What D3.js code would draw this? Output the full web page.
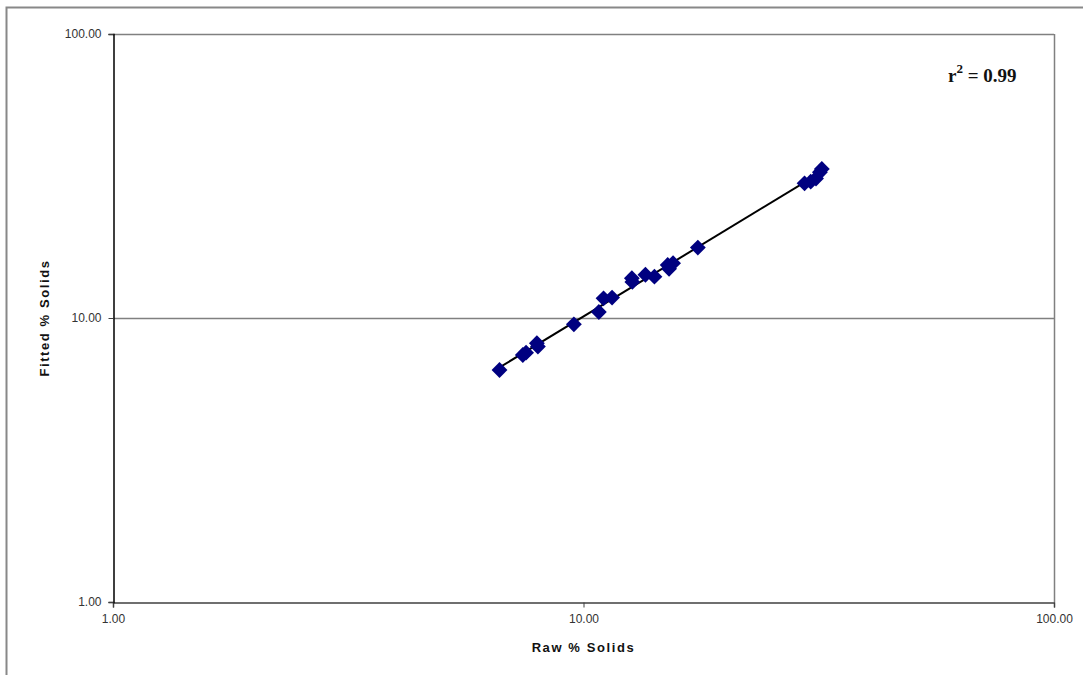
<!DOCTYPE html>
<html>
<head>
<meta charset="utf-8">
<script src="https://cdn.jsdelivr.net/npm/d3@7"></script>
<style>
  body { margin: 0; background: #fff; }
  svg { display: block; }
</style>
</head>
<body>
<div id="chart"></div>
<script>
const width = 1083;
const height = 675;

// raw % solids vs fitted % solids
const rawSolids = [6.63, 7.43, 7.55, 7.96, 8.0, 9.54, 10.78, 11.03, 11.5, 12.7, 12.67, 13.54, 14.15, 15.1, 15.5, 15.2, 17.5, 29.5, 30.4, 31.2, 31.8, 32.1];
const fittedSolids = [6.56, 7.41, 7.55, 8.15, 7.93, 9.5, 10.5, 11.73, 11.8, 13.4, 13.8, 14.2, 13.98, 15.37, 15.6, 14.9, 17.7, 29.8, 30.2, 31.0, 32.6, 33.5];
const tickValues = [1, 10, 100];
const tickLabels = ["1.00", "10.00", "100.00"];
const rSquared = "0.99";

const margin = {left: 113, top: 34, right: 1054, bottom: 602};

const svg = d3.select('#chart')
  .append('svg')
  .attr('width', width)
  .attr('height', height);

// outer chart frame (right/bottom are off-canvas)
svg.append('path')
  .attr('d', `M6.5,${height + 5}V7.5H${width + 5}`)
  .attr('fill', 'none')
  .attr('stroke', '#888')
  .attr('stroke-width', 2);

const x = d3.scaleLog().domain([1, 100]).range([margin.left, margin.right]);
const y = d3.scaleLog().domain([1, 100]).range([margin.bottom, margin.top]);

// gridlines + plot frame
svg.append('g')
  .selectAll('line')
  .data([10, 100])
  .join('line')
  .attr('x1', margin.left).attr('x2', margin.right)
  .attr('y1', d => Math.round(y(d)) + 0.5).attr('y2', d => Math.round(y(d)) + 0.5)
  .attr('stroke', '#808080')
  .attr('stroke-width', 1.5);

svg.append('line')
  .attr('x1', margin.right + 0.5).attr('x2', margin.right + 0.5)
  .attr('y1', margin.top).attr('y2', margin.bottom)
  .attr('stroke', '#808080')
  .attr('stroke-width', 1.5);

// axes
const xAxis = d3.axisBottom(x)
  .tickValues(tickValues)
  .tickFormat((d, i) => tickLabels[i])
  .tickSizeOuter(0)
  .tickSize(5)
  .tickPadding(7);

const yAxis = d3.axisLeft(y)
  .tickValues(tickValues)
  .tickFormat((d, i) => tickLabels[i])
  .tickSizeOuter(0)
  .tickSize(5)
  .tickPadding(7);

const gx = svg.append('g')
  .attr('transform', `translate(0,${margin.bottom + 0.5})`)
  .call(xAxis);
gx.select('.domain').attr('stroke', '#404040').attr('stroke-width', 1.5);

const gy = svg.append('g')
  .attr('transform', `translate(${margin.left + 0.5},0)`)
  .call(yAxis);
gy.select('.domain').attr('stroke', '#000').attr('stroke-width', 1.5);

svg.selectAll('.tick line').attr('stroke', '#404040');
svg.selectAll('.tick text')
  .attr('font-family', 'Arial, "Liberation Sans", sans-serif')
  .attr('font-size', 12)
  .attr('fill', '#333');

// power-law trend line fitted on logs
const lx = rawSolids.map(Math.log10);
const ly = fittedSolids.map(Math.log10);
const mx = d3.mean(lx), my = d3.mean(ly);
const slope = d3.sum(lx, (v, i) => (v - mx) * (ly[i] - my)) / d3.sum(lx, v => (v - mx) ** 2);
const icpt = my - slope * mx;
const [xmin, xmax] = d3.extent(rawSolids);
const fit = v => Math.pow(10, icpt + slope * Math.log10(v));

svg.append('line')
  .attr('x1', x(xmin)).attr('y1', y(fit(xmin)))
  .attr('x2', x(xmax)).attr('y2', y(fit(xmax)))
  .attr('stroke', '#000')
  .attr('stroke-width', 2);

// diamonds
const points = rawSolids.map((v, i) => ({raw: v, fitted: fittedSolids[i]}));
svg.append('g')
  .selectAll('path')
  .data(points)
  .join('path')
  .attr('d', d3.symbol(d3.symbolDiamond2, 160))
  .attr('transform', d => `translate(${x(d.raw)},${y(d.fitted)})`)
  .attr('fill', '#000080');

// titles
svg.append('text')
  .attr('x', (margin.left + margin.right) / 2)
  .attr('y', 652)
  .attr('text-anchor', 'middle')
  .attr('font-family', 'Arial, "Liberation Sans", sans-serif')
  .attr('font-size', 13)
  .attr('font-weight', 'bold')
  .attr('letter-spacing', 1.6)
  .attr('fill', '#111')
  .text('Raw % Solids');

svg.append('text')
  .attr('transform', `translate(49,${(margin.top + margin.bottom) / 2}) rotate(-90)`)
  .attr('text-anchor', 'middle')
  .attr('font-family', 'Arial, "Liberation Sans", sans-serif')
  .attr('font-size', 13)
  .attr('font-weight', 'bold')
  .attr('letter-spacing', 1.6)
  .attr('fill', '#111')
  .text('Fitted % Solids');

const r2 = svg.append('text')
  .attr('x', 948)
  .attr('y', 82)
  .attr('font-family', '"Liberation Serif", "Times New Roman", serif')
  .attr('font-size', 19)
  .attr('font-weight', 'bold')
  .attr('fill', '#111');
r2.append('tspan').text('r');
r2.append('tspan').attr('dy', -9).attr('font-size', 13).text('2');
r2.append('tspan').attr('dy', 9).text(' = ' + rSquared);
</script>
</body>
</html>
